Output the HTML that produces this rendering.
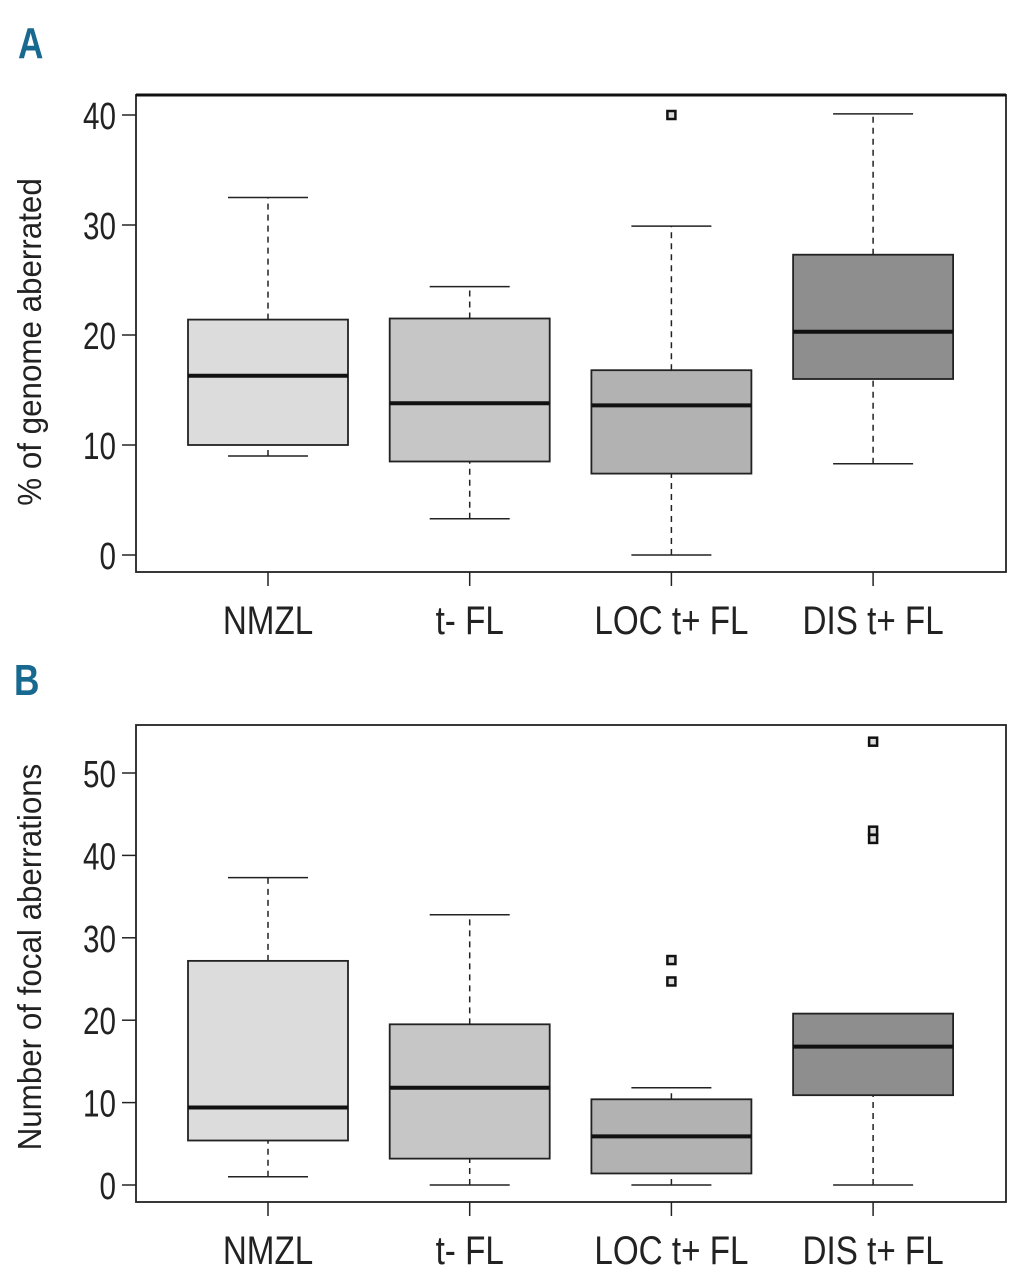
<!DOCTYPE html>
<html><head><meta charset="utf-8"><style>
html,body{margin:0;padding:0;background:#fff;}
svg{display:block;}
text{font-family:"Liberation Sans",sans-serif;fill:#222;}
</style></head><body>
<svg id="chart" width="1019" height="1280" viewBox="0 0 1019 1280" xmlns="http://www.w3.org/2000/svg">
<text transform="translate(18,58) scale(0.8,1)" style="font-weight:bold;font-size:44px;fill:#17698f">A</text>
<text transform="translate(14,695) scale(0.8,1)" style="font-weight:bold;font-size:44px;fill:#17698f">B</text>
</svg>
<script>
const categories = ["NMZL","t- FL","LOC t+ FL","DIS t+ FL"];
const fills = ["#dcdcdc","#c6c6c6","#b2b2b2","#8e8e8e"];
// Panel A: [lowWhisker, q1, median, q3, highWhisker]
const statsA = [[9,10,16.3,21.4,32.5],[3.3,8.5,13.8,21.5,24.4],[0,7.4,13.6,16.8,29.9],[8.3,16,20.3,27.3,40.1]];
const outliersA = [[],[],[40],[]];
const ticksA = [0,10,20,30,40];
// Panel B
const statsB = [[1,5.4,9.4,27.2,37.3],[0,3.2,11.8,19.5,32.8],[0,1.4,5.9,10.4,11.8],[0,10.9,16.8,20.8,0]];
const outliersB = [[],[],[24.7,27.3],[42,43,53.8]];
const ticksB = [0,10,20,30,40,50];

const svg = document.getElementById('chart');
const NS = "http://www.w3.org/2000/svg";
function mk(tag, attrs, parent){const e=document.createElementNS(NS,tag);for(const k in attrs)e.setAttribute(k,attrs[k]);(parent||svg).appendChild(e);return e;}
const xPos = i => 268 + i*201.7;

function panel(p){
  const g = mk('g',{});
  
  
  const y = v => p.y0 - v*p.k;
  const frame = mk('rect',{x:136,y:p.top,width:870,height:p.bottom-p.top,fill:'none',stroke:'#222','stroke-width':1.8},g);
  
  
  if(p.thickTop){ mk('line',{x1:136,x2:1006,y1:p.top,y2:p.top,stroke:'#111','stroke-width':3},g); }
  p.ticks.forEach(t=>{
    const tl = mk('line',{x1:122,x2:136,y1:y(t),y2:y(t),stroke:'#222','stroke-width':1.5},g);
    
    
    const tx = mk('text',{transform:`translate(116,${y(t)+14}) scale(0.78,1)`,'text-anchor':'end','font-size':38},g);
    tx.textContent = t;
    
    
  });
  categories.forEach((c,i)=>{
    const x = xPos(i); const s = p.stats[i];
    const tk = mk('line',{x1:x,x2:x,y1:p.bottom,y2:p.bottom+14,stroke:'#222','stroke-width':1.5},g);
    
    
    const lb = mk('text',{transform:`translate(${x},${p.bottom+62}) scale(0.83,1)`,'text-anchor':'middle','font-size':40},g);
    lb.textContent = c;
    
    
    const w1 = mk('line',{x1:x,x2:x,y1:y(s[0]),y2:y(s[1]),stroke:'#222','stroke-width':1.5,'stroke-dasharray':'6,5'},g);
    
    
    mk('line',{x1:x-40,x2:x+40,y1:y(s[0]),y2:y(s[0]),stroke:'#222','stroke-width':1.5},g);
    if(s[4]>s[3]){
      const w2 = mk('line',{x1:x,x2:x,y1:y(s[3]),y2:y(s[4]),stroke:'#222','stroke-width':1.5,'stroke-dasharray':'6,5'},g);
      
      
      mk('line',{x1:x-40,x2:x+40,y1:y(s[4]),y2:y(s[4]),stroke:'#222','stroke-width':1.5},g);
    }
    const b = mk('rect',{x:x-80,y:y(s[3]),width:160,height:y(s[1])-y(s[3]),fill:fills[i],stroke:'#222','stroke-width':1.8},g);
    
    
    const m = mk('line',{x1:x-80,x2:x+80,y1:y(s[2]),y2:y(s[2]),stroke:'#111','stroke-width':4},g);
    
    
    p.outliers[i].forEach(o=>{
      const r = mk('rect',{x:x-4,y:y(o)-4,width:8,height:8,fill:'#ddd',stroke:'#111','stroke-width':2.5},g);
      
      
    });
  });
  const yt = mk('text',{transform:`translate(${p.titleX},${p.titleY}) rotate(-90) scale(0.95,1)`,'text-anchor':'middle','font-size':33},g);
  yt.textContent = p.title;
  
  
}
panel({name:'panel-a',top:95,bottom:572,y0:555,k:11.0,ticks:ticksA,stats:statsA,outliers:outliersA,title:'% of genome aberrated',titleX:41,titleY:342,thickTop:true});
panel({name:'panel-b',top:725,bottom:1202,y0:1185,k:8.24,ticks:ticksB,stats:statsB,outliers:outliersB,title:'Number of focal aberrations',titleX:41,titleY:957,thickTop:false});
</script>
</body></html>
